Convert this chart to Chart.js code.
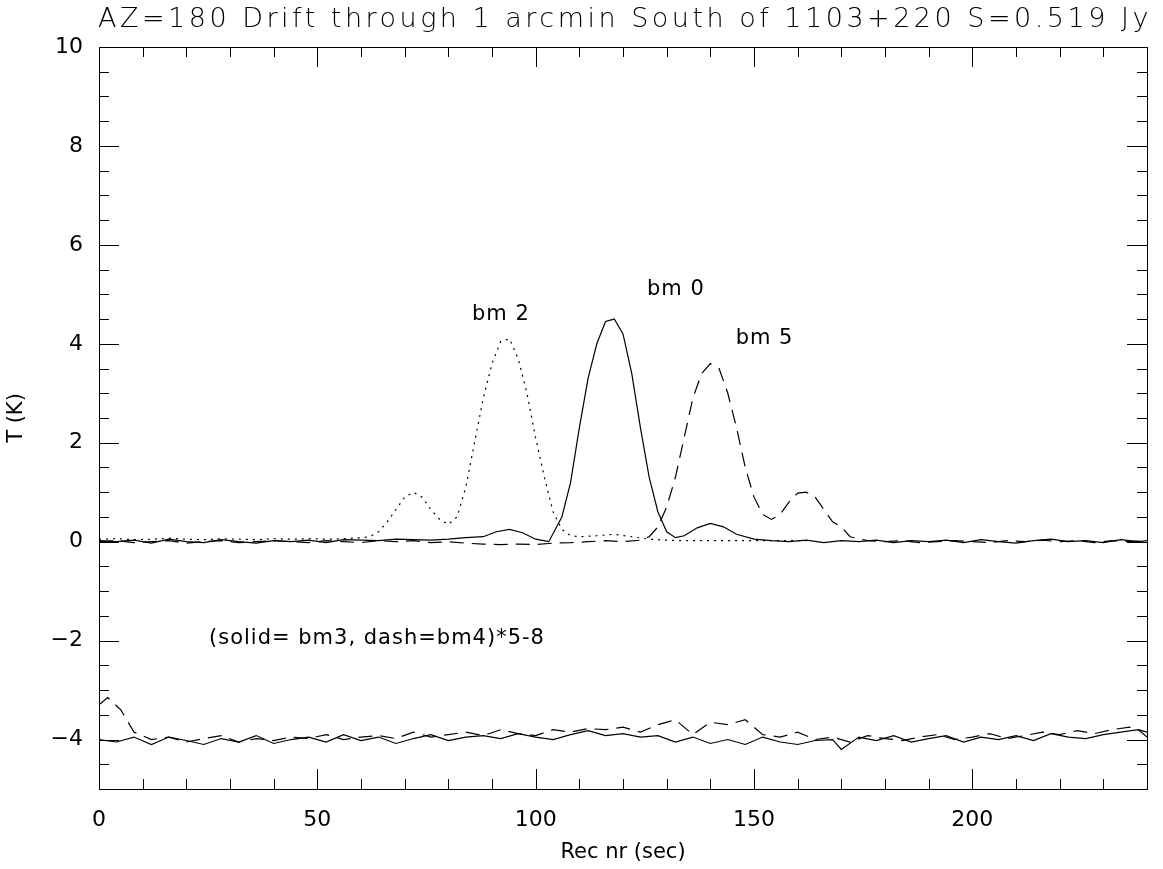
<!DOCTYPE html>
<html><head><meta charset="utf-8">
<script src="https://cdn.jsdelivr.net/npm/chart.js@4"></script>
<style>body{margin:0;background:#fff}#w{width:1163px;height:869px}</style>
</head><body><div id="w"><canvas id="c"></canvas></div>
<script>
const titleText = "AZ=180 Drift through 1 arcmin South of 1103+220 S=0.519 Jy";
const xTitle = "Rec nr (sec)", yTitle = "T (K)";
const xTicks = [0,50,100,150,200];
const yTicks = [-4,-2,0,2,4,6,8,10];

const bm0X = [0,4,8,12,16,20,24,28,32,36,40,44,48,52,56,60,64,68,72,76,80,84,88,91,94,97,100,103,106,108,110,112,114,116,118,120,122,124,126,128,130,132,134,137,140,143,146,150,154,158,162,166,170,174,178,182,186,190,194,198,202,206,210,214,218,222,226,230,234,238,240];
const bm0Y = [0.02,0.0,0.03,-0.03,0.05,0.0,-0.02,0.04,0.0,-0.03,0.02,0.0,0.03,-0.02,0.04,0.03,0.02,0.05,0.04,0.03,0.05,0.08,0.1,0.2,0.25,0.18,0.05,0.0,0.5,1.2,2.3,3.3,4.0,4.45,4.5,4.2,3.4,2.3,1.3,0.6,0.2,0.08,0.12,0.28,0.37,0.3,0.15,0.05,0.02,0.0,0.03,-0.02,0.02,0.0,0.03,-0.02,0.02,0.0,0.03,-0.02,0.04,0.0,-0.03,0.02,0.05,0.0,0.02,-0.02,0.04,0.0,0.02];

const bm2X = [0,4,8,12,16,20,24,28,32,36,40,44,48,52,56,60,62,64,66,68,70,72,74,76,78,80,82,84,86,88,90,92,94,96,98,100,102,104,106,108,110,114,118,122,126,130,134,138,142,146,150,154,158,162];
const bm2Y = [0.05,0.06,0.04,0.05,0.07,0.05,0.04,0.06,0.05,0.04,0.06,0.05,0.06,0.05,0.06,0.08,0.1,0.2,0.4,0.65,0.9,1.0,0.9,0.65,0.45,0.35,0.5,1.1,2.0,2.9,3.6,4.05,4.1,3.7,3.0,2.1,1.3,0.6,0.25,0.12,0.1,0.12,0.15,0.1,0.05,0.03,0.02,0.02,0.02,0.02,0.02,0.02,0.02,0.02];

const bm5X = [0,4,8,12,16,20,24,28,32,36,40,44,48,52,56,60,64,68,72,76,80,84,88,92,96,100,104,108,112,116,120,124,126,128,130,132,134,136,138,140,142,144,146,148,150,152,154,156,158,160,162,164,166,168,170,172,176,180,184,188,192,196,200,204,208,212,216,220,224,228,232,236,240];
const bm5Y = [0.0,0.02,-0.02,0.0,0.02,-0.03,0.0,0.02,-0.02,0.0,0.02,0.0,-0.02,0.02,0.0,-0.02,0.02,0.0,0.02,-0.02,0.0,-0.03,-0.05,-0.06,-0.05,-0.06,-0.03,-0.02,0.0,0.02,0.0,0.03,0.1,0.3,0.7,1.3,2.1,2.9,3.4,3.6,3.5,3.0,2.3,1.5,0.9,0.55,0.45,0.55,0.8,0.98,1.0,0.9,0.65,0.4,0.3,0.1,0.02,0.0,0.02,-0.02,0.0,0.02,0.0,-0.02,0.02,0.0,0.03,0.0,0.02,-0.02,0.02,0.0,0.02];

const bm3X = [0,4,8,12,16,20,24,28,32,36,40,44,48,52,56,60,64,68,72,76,80,84,88,92,96,100,104,108,112,116,120,124,128,132,136,140,144,148,152,156,160,164,168,170,174,178,182,186,190,194,198,202,206,210,214,218,222,226,230,234,238,240];
const bm3Y = [-4.0,-4.05,-3.95,-4.1,-3.95,-4.02,-4.1,-3.98,-4.05,-3.92,-4.08,-4.0,-3.95,-4.05,-3.9,-4.02,-3.95,-4.08,-3.98,-3.9,-4.02,-3.95,-3.92,-3.98,-3.88,-3.95,-4.0,-3.9,-3.82,-3.92,-3.88,-3.95,-3.92,-4.05,-3.95,-4.08,-4.0,-4.1,-3.95,-4.05,-4.1,-4.02,-4.0,-4.2,-3.95,-4.02,-3.92,-4.05,-3.98,-3.92,-4.05,-3.95,-4.0,-3.92,-4.02,-3.88,-3.95,-3.98,-3.9,-3.85,-3.8,-3.95];

const bm4X = [0,2,5,8,12,16,20,24,28,32,36,40,44,48,52,56,60,64,68,72,76,80,84,88,92,96,100,104,108,112,116,120,124,128,132,136,140,144,148,152,156,160,164,168,172,176,180,184,188,192,196,200,204,208,212,216,220,224,228,232,236,240];
const bm4Y = [-3.3,-3.15,-3.4,-3.85,-4.0,-3.95,-4.05,-3.98,-3.92,-4.05,-3.98,-4.02,-3.95,-3.98,-3.9,-4.0,-3.95,-3.92,-3.98,-3.85,-3.95,-3.9,-3.85,-3.92,-3.8,-3.88,-3.92,-3.8,-3.85,-3.78,-3.8,-3.75,-3.85,-3.7,-3.6,-3.9,-3.65,-3.7,-3.6,-3.9,-3.95,-3.85,-4.0,-3.95,-4.05,-3.92,-3.98,-4.02,-3.95,-3.9,-4.0,-3.95,-3.88,-3.98,-3.92,-3.85,-3.9,-3.82,-3.88,-3.8,-3.75,-3.85];

const labels = [
  {text:"bm 2", x:85.4, y:4.6},
  {text:"bm 0", x:125.5, y:5.1},
  {text:"bm 5", x:145.8, y:4.1},
  {text:"(solid= bm3, dash=bm4)*5-8", x:25.2, y:-1.95}
];

const zip = (xs, ys) => xs.slice(0, Math.min(xs.length, ys.length)).map((x,i)=>({x, y:ys[i]}));
const ds = (xs, ys, dash) => ({data: zip(xs, ys), borderColor:'#000', borderWidth:1.2, borderDash:dash, pointRadius:0, tension:0, fill:false});

const FONT = '"DejaVu Sans", sans-serif';
const deco = {
  id:'deco',
  afterDraw(ch){
    const c = ch.ctx, a = ch.chartArea, xs = ch.scales.x, ys = ch.scales.y;
    c.save();
    c.strokeStyle='#000'; c.lineWidth=1;
    c.strokeRect(a.left+0.5, a.top+0.5, a.right-a.left, a.bottom-a.top);
    c.beginPath();
    for (let v=0; v<=240; v+=10){
      const p = Math.round(xs.getPixelForValue(v))+0.5, L = v%50===0?20:10;
      c.moveTo(p,a.bottom); c.lineTo(p,a.bottom-L);
      c.moveTo(p,a.top); c.lineTo(p,a.top+L);
    }
    for (let v=-5; v<=10.001; v+=0.5){
      const p = Math.round(ys.getPixelForValue(v))+0.5, L = Math.abs(v%2)<1e-6?20:10;
      c.moveTo(a.left,p); c.lineTo(a.left+L,p);
      c.moveTo(a.right,p); c.lineTo(a.right-L,p);
    }
    c.stroke();
    c.fillStyle='#000';
    c.font='300 27px '+FONT; c.textAlign='left'; c.textBaseline='middle';
    c.letterSpacing='3.5px';
    c.fillText(titleText, 98, 20, 1055);
    c.letterSpacing='1px';
    c.font='21px '+FONT;
    labels.forEach(l=>c.fillText(l.text, xs.getPixelForValue(l.x), ys.getPixelForValue(l.y)));
    c.restore();
  }
};

new Chart(document.getElementById('c'), {
  type:'line',
  data:{datasets:[ds(bm0X,bm0Y,[]), ds(bm2X,bm2Y,[2,5]), ds(bm5X,bm5Y,[14,8]), ds(bm3X,bm3Y,[]), ds(bm4X,bm4Y,[14,8])]},
  options:{
    responsive:true, maintainAspectRatio:false, animation:false,
    layout:{padding:{top:47,right:16,left:0,bottom:0}},
    plugins:{legend:{display:false}, tooltip:{enabled:false}},
    scales:{
      x:{type:'linear', min:0, max:240,
        afterBuildTicks:s=>{s.ticks=xTicks.map(v=>({value:v}));},
        afterFit:s=>{s.height=80;},
        grid:{display:false}, border:{display:false},
        ticks:{color:'#000', font:{size:22,family:FONT}, padding:10, maxRotation:0},
        title:{display:true, text:xTitle, color:'#000', font:{size:21,family:FONT}, padding:{top:0}}},
      y:{min:-5, max:10,
        afterBuildTicks:s=>{s.ticks=yTicks.map(v=>({value:v}));},
        afterFit:s=>{s.width=99;},
        grid:{display:false}, border:{display:false},
        ticks:{color:'#000', font:{size:22,family:FONT}, padding:8, callback:v=>String(v).replace('-','\u2212')},
        title:{display:true, text:yTitle, color:'#000', font:{size:21,family:FONT}, padding:{bottom:10}}}
    }
  },
  plugins:[deco]
});
</script></body></html>
